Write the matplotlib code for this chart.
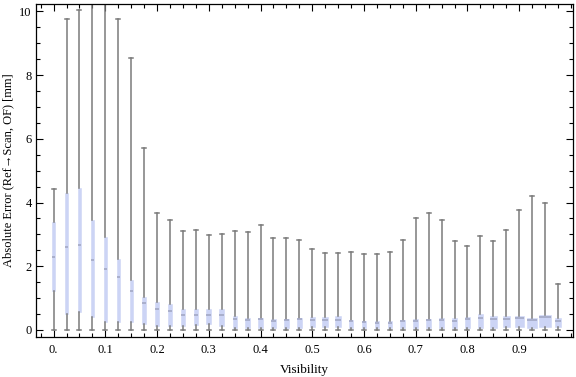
import numpy as np
import matplotlib.pyplot as plt
from matplotlib.ticker import MultipleLocator, FixedLocator, FixedFormatter

plt.rcParams['font.family'] = ['Liberation Serif', 'DejaVu Serif']

# visibility bins (box positions)
visibility = [0.0, 0.025, 0.05, 0.075, 0.1, 0.125, 0.15, 0.175, 0.2, 0.225,
              0.25, 0.275, 0.3, 0.325, 0.35, 0.375, 0.4, 0.425, 0.45, 0.475,
              0.5, 0.525, 0.55, 0.575, 0.6, 0.625, 0.65, 0.675, 0.7, 0.725,
              0.75, 0.775, 0.8, 0.825, 0.85, 0.875, 0.9, 0.925, 0.95, 0.975]

# whisker tops [mm]
whis_hi = [4.41, 9.75, 10.03, 10.6, 10.6, 9.75, 8.53, 5.71, 3.67, 3.44,
           3.10, 3.13, 2.97, 3.00, 3.10, 3.07, 3.28, 2.88, 2.88, 2.81,
           2.53, 2.41, 2.41, 2.44, 2.38, 2.38, 2.44, 2.81, 3.50, 3.66,
           3.44, 2.78, 2.63, 2.94, 2.78, 3.13, 3.76, 4.19, 3.97, 1.43]
# upper quartile
q3 = [3.39, 4.29, 4.46, 3.44, 2.92, 2.22, 1.56, 1.04, 0.88, 0.82,
      0.65, 0.65, 0.65, 0.65, 0.44, 0.38, 0.38, 0.35, 0.35, 0.38,
      0.41, 0.41, 0.44, 0.31, 0.28, 0.28, 0.28, 0.31, 0.35, 0.35,
      0.38, 0.38, 0.41, 0.50, 0.44, 0.44, 0.44, 0.38, 0.47, 0.38]
# median
med = [2.30, 2.59, 2.67, 2.20, 1.90, 1.65, 1.23, 0.84, 0.67, 0.61,
       0.48, 0.46, 0.48, 0.48, 0.33, 0.31, 0.33, 0.27, 0.31, 0.33,
       0.31, 0.31, 0.30, 0.27, 0.24, 0.23, 0.22, 0.28, 0.28, 0.31,
       0.31, 0.28, 0.33, 0.37, 0.33, 0.34, 0.39, 0.31, 0.41, 0.27]
# lower quartile
q1 = [1.23, 0.49, 0.56, 0.40, 0.26, 0.26, 0.25, 0.20, 0.14, 0.14,
      0.14, 0.17, 0.20, 0.14, 0.07, 0.07, 0.07, 0.07, 0.07, 0.07,
      0.10, 0.10, 0.10, 0.07, 0.07, 0.07, 0.07, 0.07, 0.07, 0.07,
      0.07, 0.07, 0.07, 0.07, 0.07, 0.10, 0.10, 0.07, 0.10, 0.10]
# whisker bottoms
whis_lo = [0.0] * 40

# box widths in pixels (style)
box_px = [2.8, 2.8, 2.8, 3.3, 3.3, 3.3, 3.3, 3.3, 3.8, 4.3,
          4.6, 4.6, 4.6, 4.6, 4.3, 4.3, 4.3, 4.6, 4.8, 5.3,
          5.3, 5.6, 5.3, 4.3, 4.3, 4.3, 4.3, 4.8, 4.8, 4.6,
          4.6, 5.6, 5.3, 5.6, 7.3, 7.0, 9.0, 9.3, 11.3, 6.6]

x_labels = ['0.', '0.1', '0.2', '0.3', '0.4', '0.5', '0.6', '0.7', '0.8', '0.9']
x_label_pos = [0.0, 0.1, 0.2, 0.3, 0.4, 0.5, 0.6, 0.7, 0.8, 0.9]

px_per_unit = 517.5
stats = []
for i in range(len(visibility)):
    stats.append({'med': med[i], 'q1': q1[i], 'q3': q3[i],
                  'whislo': whis_lo[i], 'whishi': whis_hi[i], 'fliers': []})

fig = plt.figure(figsize=(5.76, 3.77), dpi=100)
ax = fig.add_axes([36/576, 1 - 337/377, (573-36)/576, (337-4)/377])

widths = [w / px_per_unit for w in box_px]
ax.bxp(stats, positions=visibility, widths=widths, patch_artist=True,
       showfliers=False, manage_ticks=False,
       capwidths=[4.0 / px_per_unit] * len(visibility),
       boxprops=dict(facecolor='#ccd4f5', edgecolor='#ccd4f5', linewidth=0.4),
       whiskerprops=dict(color='#7a7a7a', linewidth=1.1),
       capprops=dict(color='#7a7a7a', linewidth=1.1),
       medianprops=dict(color='#a3a8c4', linewidth=1.2))

ax.set_xlim(-0.034, 1.004)
ax.set_ylim(-0.22, 10.23)

ax.xaxis.set_major_locator(FixedLocator(x_label_pos))
ax.xaxis.set_major_formatter(FixedFormatter(x_labels))
ax.xaxis.set_minor_locator(MultipleLocator(0.025))
ax.yaxis.set_major_locator(MultipleLocator(2))
ax.yaxis.set_minor_locator(MultipleLocator(0.5))

ax.tick_params(which='both', direction='in', top=True, right=True,
               labelsize=9, width=0.8, color='black')
ax.tick_params(which='major', length=5)
ax.tick_params(which='minor', length=3)
ax.tick_params(axis='x', which='major', pad=5)
ax.tick_params(axis='y', which='major', pad=3)
for s in ax.spines.values():
    s.set_linewidth(0.9)

ax.set_xlabel('Visibility', fontsize=9.5, labelpad=6)
ax.set_ylabel('Absolute Error (Ref\u2192Scan, OF) [mm]', fontsize=9)
ax.yaxis.set_label_coords(-0.040, 0.5)

fig.savefig('out.png', dpi=100)
